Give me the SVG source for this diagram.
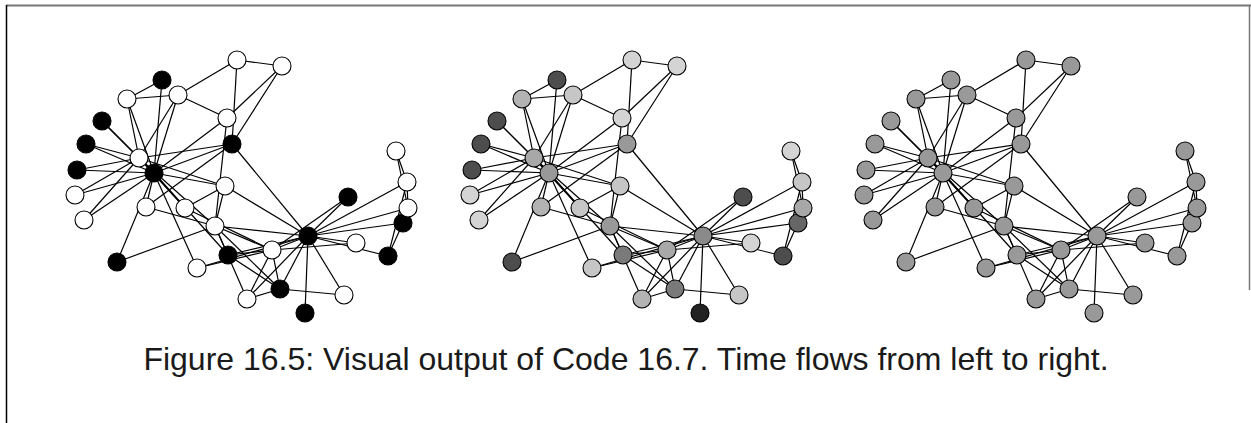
<svg xmlns="http://www.w3.org/2000/svg" xmlns:xlink="http://www.w3.org/1999/xlink" width="1251" height="423" viewBox="0 0 1251 423">
<style>
.n circle{stroke:#000;stroke-width:1.1}
.w{fill:#fff}.b{fill:#000}.g{fill:#999}
.s1{fill:#d4d4d4}.s2{fill:#c6c6c6}.s3{fill:#b3b3b3}.s4{fill:#a8a8a8}.s5{fill:#999}.s6{fill:#8a8a8a}.s7{fill:#7a7a7a}.s8{fill:#666}.s9{fill:#4d4d4d}.s10{fill:#222}
.cap{font-family:"Liberation Sans",Arial,sans-serif;font-size:32px;fill:#1a1a1a}
</style>
<defs>
<g id="edges" stroke="#000" stroke-width="1.2" fill="none">
<line x1="308" y1="236" x2="272" y2="250"/><line x1="308" y1="236" x2="215" y2="226"/><line x1="308" y1="236" x2="280" y2="289"/><line x1="308" y1="236" x2="403" y2="223"/><line x1="308" y1="236" x2="407" y2="182"/><line x1="308" y1="236" x2="408" y2="208"/><line x1="308" y1="236" x2="247" y2="299"/><line x1="308" y1="236" x2="225" y2="186"/><line x1="308" y1="236" x2="388" y2="256"/><line x1="308" y1="236" x2="305" y2="313"/><line x1="308" y1="236" x2="344" y2="295"/><line x1="308" y1="236" x2="228" y2="255"/><line x1="308" y1="236" x2="348" y2="197"/><line x1="308" y1="236" x2="197" y2="268"/><line x1="308" y1="236" x2="356" y2="243"/><line x1="308" y1="236" x2="232" y2="144"/>
<line x1="272" y1="250" x2="215" y2="226"/><line x1="272" y1="250" x2="280" y2="289"/><line x1="272" y1="250" x2="247" y2="299"/><line x1="272" y1="250" x2="228" y2="255"/><line x1="272" y1="250" x2="348" y2="197"/><line x1="272" y1="250" x2="197" y2="268"/><line x1="272" y1="250" x2="356" y2="243"/><line x1="272" y1="250" x2="185" y2="208"/>
<line x1="215" y1="226" x2="280" y2="289"/><line x1="215" y1="226" x2="247" y2="299"/><line x1="215" y1="226" x2="225" y2="186"/><line x1="215" y1="226" x2="117" y2="262"/><line x1="215" y1="226" x2="228" y2="255"/><line x1="215" y1="226" x2="227" y2="118"/><line x1="215" y1="226" x2="146" y2="207"/><line x1="215" y1="226" x2="139" y2="158"/>
<line x1="280" y1="289" x2="247" y2="299"/><line x1="280" y1="289" x2="344" y2="295"/><line x1="280" y1="289" x2="228" y2="255"/>
<line x1="403" y1="223" x2="408" y2="208"/><line x1="403" y1="223" x2="388" y2="256"/><line x1="407" y1="182" x2="408" y2="208"/><line x1="407" y1="182" x2="388" y2="256"/><line x1="407" y1="182" x2="396" y2="151"/><line x1="408" y1="208" x2="396" y2="151"/>
<line x1="225" y1="186" x2="185" y2="208"/><line x1="225" y1="186" x2="139" y2="158"/><line x1="225" y1="186" x2="154" y2="173"/><line x1="117" y1="262" x2="154" y2="173"/><line x1="228" y1="255" x2="154" y2="173"/>
<line x1="102" y1="121" x2="139" y2="158"/><line x1="102" y1="121" x2="154" y2="173"/><line x1="86" y1="144" x2="139" y2="158"/><line x1="86" y1="144" x2="154" y2="173"/><line x1="77" y1="170" x2="139" y2="158"/><line x1="77" y1="170" x2="154" y2="173"/><line x1="197" y1="268" x2="154" y2="173"/><line x1="75" y1="195" x2="139" y2="158"/><line x1="75" y1="195" x2="154" y2="173"/><line x1="84" y1="220" x2="139" y2="158"/><line x1="84" y1="220" x2="154" y2="173"/>
<line x1="178" y1="95" x2="237" y2="60"/><line x1="178" y1="95" x2="227" y2="118"/><line x1="178" y1="95" x2="127" y2="99"/><line x1="178" y1="95" x2="139" y2="158"/><line x1="178" y1="95" x2="154" y2="173"/>
<line x1="282" y1="66" x2="237" y2="60"/><line x1="282" y1="66" x2="227" y2="118"/><line x1="282" y1="66" x2="232" y2="144"/><line x1="237" y1="60" x2="232" y2="144"/>
<line x1="162" y1="80" x2="127" y2="99"/><line x1="162" y1="80" x2="154" y2="173"/><line x1="227" y1="118" x2="154" y2="173"/><line x1="146" y1="207" x2="232" y2="144"/><line x1="146" y1="207" x2="154" y2="173"/>
<line x1="127" y1="99" x2="139" y2="158"/><line x1="127" y1="99" x2="154" y2="173"/><line x1="185" y1="208" x2="139" y2="158"/><line x1="185" y1="208" x2="154" y2="173"/><line x1="232" y1="144" x2="139" y2="158"/><line x1="232" y1="144" x2="154" y2="173"/><line x1="139" y1="158" x2="154" y2="173"/>
</g>
</defs>
<rect width="1251" height="423" fill="#fff"/>
<line x1="6" y1="5.5" x2="1251" y2="5.5" stroke="#777" stroke-width="2"/>
<line x1="6.5" y1="5" x2="6.5" y2="423" stroke="#000" stroke-width="1.5"/>
<line x1="1249.5" y1="5" x2="1249.5" y2="290" stroke="#777" stroke-width="1.5"/>
<g id="connectors">
<use xlink:href="#edges" href="#edges"/>
<use xlink:href="#edges" href="#edges" transform="translate(395,0)"/>
<use xlink:href="#edges" href="#edges" transform="translate(789,0)"/>
</g>
<g id="panel1" class="n">
<g id="p1n0"><circle cx="308" cy="236" r="9" class="b"/></g>
<g id="p1n1"><circle cx="272" cy="250" r="9" class="w"/></g>
<g id="p1n2"><circle cx="215" cy="226" r="9" class="w"/></g>
<g id="p1n3"><circle cx="280" cy="289" r="9" class="b"/></g>
<g id="p1n4"><circle cx="403" cy="223" r="9" class="b"/></g>
<g id="p1n5"><circle cx="407" cy="182" r="9" class="w"/></g>
<g id="p1n6"><circle cx="408" cy="208" r="9" class="w"/></g>
<g id="p1n7"><circle cx="247" cy="299" r="9" class="w"/></g>
<g id="p1n8"><circle cx="225" cy="186" r="9" class="w"/></g>
<g id="p1n9"><circle cx="117" cy="262" r="9" class="b"/></g>
<g id="p1n10"><circle cx="388" cy="256" r="9" class="b"/></g>
<g id="p1n11"><circle cx="305" cy="313" r="9" class="b"/></g>
<g id="p1n12"><circle cx="344" cy="295" r="9" class="w"/></g>
<g id="p1n13"><circle cx="228" cy="255" r="9" class="b"/></g>
<g id="p1n14"><circle cx="102" cy="121" r="9" class="b"/></g>
<g id="p1n15"><circle cx="86" cy="144" r="9" class="b"/></g>
<g id="p1n16"><circle cx="396" cy="151" r="9" class="w"/></g>
<g id="p1n17"><circle cx="348" cy="197" r="9" class="b"/></g>
<g id="p1n18"><circle cx="77" cy="170" r="9" class="b"/></g>
<g id="p1n19"><circle cx="197" cy="268" r="9" class="w"/></g>
<g id="p1n20"><circle cx="75" cy="195" r="9" class="w"/></g>
<g id="p1n21"><circle cx="356" cy="243" r="9" class="w"/></g>
<g id="p1n22"><circle cx="84" cy="220" r="9" class="w"/></g>
<g id="p1n23"><circle cx="178" cy="95" r="9" class="w"/></g>
<g id="p1n24"><circle cx="282" cy="66" r="9" class="w"/></g>
<g id="p1n25"><circle cx="237" cy="60" r="9" class="w"/></g>
<g id="p1n26"><circle cx="162" cy="80" r="9" class="b"/></g>
<g id="p1n27"><circle cx="227" cy="118" r="9" class="w"/></g>
<g id="p1n28"><circle cx="146" cy="207" r="9" class="w"/></g>
<g id="p1n29"><circle cx="127" cy="99" r="9" class="w"/></g>
<g id="p1n30"><circle cx="185" cy="208" r="9" class="w"/></g>
<g id="p1n31"><circle cx="232" cy="144" r="9" class="b"/></g>
<g id="p1n32"><circle cx="139" cy="158" r="9" class="w"/></g>
<g id="p1n33"><circle cx="154" cy="173" r="9" class="b"/></g>
</g>
<g id="panel2" class="n" transform="translate(395,0)">
<g id="p2n0"><circle cx="308" cy="236" r="9" class="s6"/></g>
<g id="p2n1"><circle cx="272" cy="250" r="9" class="s4"/></g>
<g id="p2n2"><circle cx="215" cy="226" r="9" class="s5"/></g>
<g id="p2n3"><circle cx="280" cy="289" r="9" class="s7"/></g>
<g id="p2n4"><circle cx="403" cy="223" r="9" class="s8"/></g>
<g id="p2n5"><circle cx="407" cy="182" r="9" class="s2"/></g>
<g id="p2n6"><circle cx="408" cy="208" r="9" class="s4"/></g>
<g id="p2n7"><circle cx="247" cy="299" r="9" class="s3"/></g>
<g id="p2n8"><circle cx="225" cy="186" r="9" class="s2"/></g>
<g id="p2n9"><circle cx="117" cy="262" r="9" class="s9"/></g>
<g id="p2n10"><circle cx="388" cy="256" r="9" class="s9"/></g>
<g id="p2n11"><circle cx="305" cy="313" r="9" class="s10"/></g>
<g id="p2n12"><circle cx="344" cy="295" r="9" class="s2"/></g>
<g id="p2n13"><circle cx="228" cy="255" r="9" class="s7"/></g>
<g id="p2n14"><circle cx="102" cy="121" r="9" class="s9"/></g>
<g id="p2n15"><circle cx="86" cy="144" r="9" class="s9"/></g>
<g id="p2n16"><circle cx="396" cy="151" r="9" class="s1"/></g>
<g id="p2n17"><circle cx="348" cy="197" r="9" class="s9"/></g>
<g id="p2n18"><circle cx="77" cy="170" r="9" class="s9"/></g>
<g id="p2n19"><circle cx="197" cy="268" r="9" class="s2"/></g>
<g id="p2n20"><circle cx="75" cy="195" r="9" class="s1"/></g>
<g id="p2n21"><circle cx="356" cy="243" r="9" class="s1"/></g>
<g id="p2n22"><circle cx="84" cy="220" r="9" class="s1"/></g>
<g id="p2n23"><circle cx="178" cy="95" r="9" class="s2"/></g>
<g id="p2n24"><circle cx="282" cy="66" r="9" class="s1"/></g>
<g id="p2n25"><circle cx="237" cy="60" r="9" class="s1"/></g>
<g id="p2n26"><circle cx="162" cy="80" r="9" class="s9"/></g>
<g id="p2n27"><circle cx="227" cy="118" r="9" class="s1"/></g>
<g id="p2n28"><circle cx="146" cy="207" r="9" class="s3"/></g>
<g id="p2n29"><circle cx="127" cy="99" r="9" class="s3"/></g>
<g id="p2n30"><circle cx="185" cy="208" r="9" class="s2"/></g>
<g id="p2n31"><circle cx="232" cy="144" r="9" class="s5"/></g>
<g id="p2n32"><circle cx="139" cy="158" r="9" class="s4"/></g>
<g id="p2n33"><circle cx="154" cy="173" r="9" class="s5"/></g>
</g>
<g id="panel3" class="n" transform="translate(789,0)">
<g id="p3n0"><circle cx="308" cy="236" r="9" class="g"/></g>
<g id="p3n1"><circle cx="272" cy="250" r="9" class="g"/></g>
<g id="p3n2"><circle cx="215" cy="226" r="9" class="g"/></g>
<g id="p3n3"><circle cx="280" cy="289" r="9" class="g"/></g>
<g id="p3n4"><circle cx="403" cy="223" r="9" class="g"/></g>
<g id="p3n5"><circle cx="407" cy="182" r="9" class="g"/></g>
<g id="p3n6"><circle cx="408" cy="208" r="9" class="g"/></g>
<g id="p3n7"><circle cx="247" cy="299" r="9" class="g"/></g>
<g id="p3n8"><circle cx="225" cy="186" r="9" class="g"/></g>
<g id="p3n9"><circle cx="117" cy="262" r="9" class="g"/></g>
<g id="p3n10"><circle cx="388" cy="256" r="9" class="g"/></g>
<g id="p3n11"><circle cx="305" cy="313" r="9" class="g"/></g>
<g id="p3n12"><circle cx="344" cy="295" r="9" class="g"/></g>
<g id="p3n13"><circle cx="228" cy="255" r="9" class="g"/></g>
<g id="p3n14"><circle cx="102" cy="121" r="9" class="g"/></g>
<g id="p3n15"><circle cx="86" cy="144" r="9" class="g"/></g>
<g id="p3n16"><circle cx="396" cy="151" r="9" class="g"/></g>
<g id="p3n17"><circle cx="348" cy="197" r="9" class="g"/></g>
<g id="p3n18"><circle cx="77" cy="170" r="9" class="g"/></g>
<g id="p3n19"><circle cx="197" cy="268" r="9" class="g"/></g>
<g id="p3n20"><circle cx="75" cy="195" r="9" class="g"/></g>
<g id="p3n21"><circle cx="356" cy="243" r="9" class="g"/></g>
<g id="p3n22"><circle cx="84" cy="220" r="9" class="g"/></g>
<g id="p3n23"><circle cx="178" cy="95" r="9" class="g"/></g>
<g id="p3n24"><circle cx="282" cy="66" r="9" class="g"/></g>
<g id="p3n25"><circle cx="237" cy="60" r="9" class="g"/></g>
<g id="p3n26"><circle cx="162" cy="80" r="9" class="g"/></g>
<g id="p3n27"><circle cx="227" cy="118" r="9" class="g"/></g>
<g id="p3n28"><circle cx="146" cy="207" r="9" class="g"/></g>
<g id="p3n29"><circle cx="127" cy="99" r="9" class="g"/></g>
<g id="p3n30"><circle cx="185" cy="208" r="9" class="g"/></g>
<g id="p3n31"><circle cx="232" cy="144" r="9" class="g"/></g>
<g id="p3n32"><circle cx="139" cy="158" r="9" class="g"/></g>
<g id="p3n33"><circle cx="154" cy="173" r="9" class="g"/></g>
</g>
<text class="cap" x="626" y="370" text-anchor="middle">Figure 16.5: Visual output of Code 16.7. Time flows from left to right.</text>
</svg>
